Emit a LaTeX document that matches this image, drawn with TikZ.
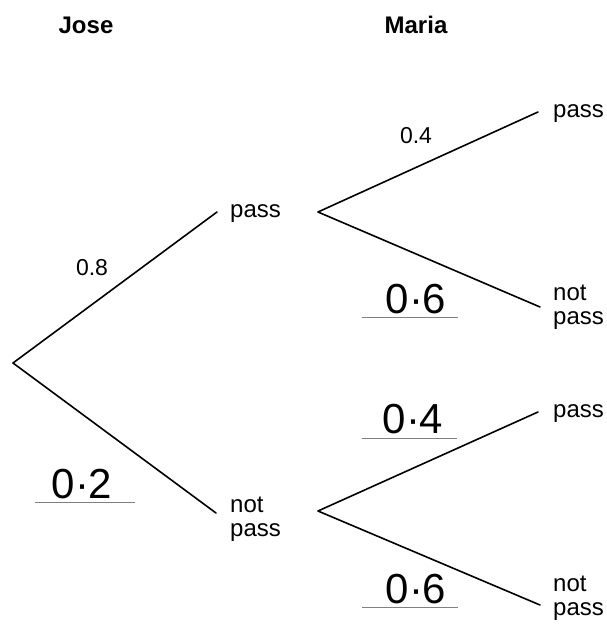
\documentclass[tikz,border=0pt]{standalone}
\usepackage{fontspec}
\setmainfont{Liberation Sans}
\begin{document}
\begin{tikzpicture}[x=1pt,y=-1pt,
  lbl/.style={font=\fontsize{24}{24}\selectfont, inner sep=0pt, anchor=base west},
  head/.style={font=\fontsize{24}{24}\selectfont\bfseries, inner sep=0pt, anchor=base},
  prob/.style={font=\fontsize{23}{24}\selectfont, inner sep=0pt, anchor=base},
  hand/.style={font=\fontsize{42}{42}\selectfont, inner sep=0pt, anchor=base},
  branch/.style={line width=1.6pt, line cap=round, line join=round},
  uline/.style={line width=0.8pt, gray}]
\useasboundingbox (0,0) rectangle (607,632);

% headings
\node[head] (jose) at (86,33) {Jose};
\node[head] (maria) at (416,33) {Maria};

% branch points
\coordinate (root) at (13,363);
\coordinate (a1) at (217,212);
\coordinate (b1) at (216,513);
\coordinate (v1) at (318,212);
\coordinate (v2) at (318,511);
\coordinate (c1) at (538,112);
\coordinate (c2) at (540,307);
\coordinate (c3) at (538,412);
\coordinate (c4) at (540,605);

% outcome labels
\node[lbl] (jp) at (230,217) {pass};
\node[lbl] (jn) at (230,512) {\begin{tabular}[t]{@{}l@{}}not\\pass\end{tabular}};
\node[lbl] (mpp) at (553,117) {pass};
\node[lbl] (mpn) at (553,300) {\begin{tabular}[t]{@{}l@{}}not\\pass\end{tabular}};
\node[lbl] (mnp) at (553,417) {pass};
\node[lbl] (mnn) at (553,591) {\begin{tabular}[t]{@{}l@{}}not\\pass\end{tabular}};

% branches
\draw[branch] (root) -- (a1);
\draw[branch] (root) -- (b1);
\draw[branch] (c1) -- (v1) -- (c2);
\draw[branch] (c3) -- (v2) -- (c4);

% printed probabilities
\node[prob] (p08) at (92,275) {0.8};
\node[prob] (p04) at (416,143) {0.4};

% handwritten probabilities
\node[hand] (h06a) at (416,313) {0·6};
\node[hand] (h04) at (413,433) {0·4};
\node[hand] (h06b) at (416,603) {0·6};
\node[hand] (h02) at (82,498) {0·2};

\draw[uline] (362,317) -- (458,317);
\draw[uline] (362,438) -- (457,438);
\draw[uline] (362,607) -- (458,607);
\draw[uline] (35,502) -- (135,502);
\end{tikzpicture}
\end{document}
